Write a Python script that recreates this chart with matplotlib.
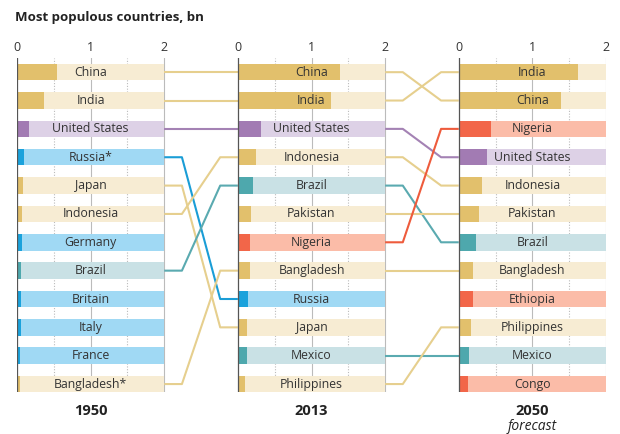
import numpy as np
import matplotlib.pyplot as plt

plt.rcParams['font.family'] = ['Open Sans', 'DejaVu Sans']

# data, billions
countries_1950 = ['China', 'India', 'United States', 'Russia*', 'Japan', 'Indonesia',
                  'Germany', 'Brazil', 'Britain', 'Italy', 'France', 'Bangladesh*']
pop_1950 = [0.55, 0.37, 0.16, 0.10, 0.08, 0.07, 0.07, 0.05, 0.05, 0.05, 0.04, 0.04]

countries_2013 = ['China', 'India', 'United States', 'Indonesia', 'Brazil', 'Pakistan',
                  'Nigeria', 'Bangladesh', 'Russia', 'Japan', 'Mexico', 'Philippines']
pop_2013 = [1.39, 1.27, 0.32, 0.25, 0.20, 0.18, 0.17, 0.16, 0.14, 0.13, 0.12, 0.10]

countries_2050 = ['India', 'China', 'Nigeria', 'United States', 'Indonesia', 'Pakistan',
                  'Brazil', 'Bangladesh', 'Ethiopia', 'Philippines', 'Mexico', 'Congo']
pop_2050 = [1.62, 1.39, 0.44, 0.38, 0.31, 0.27, 0.23, 0.20, 0.19, 0.16, 0.14, 0.12]

years = ['1950', '2013', '2050']

region = {
    'China': 'asia', 'India': 'asia', 'Japan': 'asia', 'Indonesia': 'asia',
    'Bangladesh': 'asia', 'Pakistan': 'asia', 'Philippines': 'asia',
    'United States': 'us',
    'Russia': 'europe', 'Germany': 'europe', 'Britain': 'europe', 'Italy': 'europe', 'France': 'europe',
    'Brazil': 'latam', 'Mexico': 'latam',
    'Nigeria': 'africa', 'Ethiopia': 'africa', 'Congo': 'africa',
}
# dark, light, line
colours = {
    'asia': ('#e2c06c', '#f7ecd3', '#e6cf8e'),
    'us': ('#a27bb3', '#ddd1e6', '#a482b4'),
    'europe': ('#1aa2dc', '#a0d9f4', '#1a9dd6'),
    'latam': ('#4ea8ad', '#c9e1e5', '#5aaab0'),
    'africa': ('#f26649', '#fbbca8', '#ee5b3c'),
}

panels = [(countries_1950, pop_1950), (countries_2013, pop_2013), (countries_2050, pop_2050)]
offset = 3.0
bar_h = 0.58

fig = plt.figure(figsize=(6.2, 4.34), dpi=100)
ax = fig.add_axes([17 / 620, 1 - 392 / 434, 589 / 620, 334 / 434])
ax.set_xlim(0, 8)
ax.set_ylim(11.28, -0.5)
ax.axis('off')

def key(name):
    return name.rstrip('*')

for p, (names, vals) in enumerate(panels):
    x0 = p * offset
    # grid
    ax.axvline(x0 + 1, color='#bbbbbb', lw=0.8, zorder=0)
    ax.axvline(x0 + 2, color='#bbbbbb', lw=0.8, zorder=0)
    for g in (0.5, 1.5):
        ax.axvline(x0 + g, color='#bbbbbb', lw=0.8, ls=(0, (1, 1.5)), zorder=0)
    ax.axvline(x0, color='#555555', lw=0.9, zorder=3)
    for t in range(3):
        ax.text(x0 + t, -0.88, str(t), ha='center', va='center', fontsize=9, color='#333333')
    y = np.arange(len(names))
    dark = [colours[region[key(n)]][0] for n in names]
    light = [colours[region[key(n)]][1] for n in names]
    ax.barh(y, [2] * len(names), left=x0, height=bar_h, color=light, zorder=1)
    ax.barh(y, vals, left=x0, height=bar_h, color=dark, zorder=2)
    for i, n in enumerate(names):
        ax.text(x0 + 1, i, n, ha='center', va='center', fontsize=8.8, color='#333333', zorder=4)
    ax.text(x0 + 1, 11.95, years[p], ha='center', va='center', fontsize=10.5,
            fontweight='bold', color='#222222', clip_on=False)

ax.text(2 * offset + 1, 12.5, 'forecast', ha='center', va='center', fontsize=10,
        style='italic', color='#222222', clip_on=False)

# connectors between consecutive panels
seg = 0.24
for p in range(2):
    a_names = [key(n) for n in panels[p][0]]
    b_names = [key(n) for n in panels[p + 1][0]]
    xa = p * offset + 2
    xb = (p + 1) * offset
    for i, n in enumerate(a_names):
        if n in b_names:
            j = b_names.index(n)
            ax.plot([xa, xa + seg, xb - seg, xb], [i, i, j, j],
                    color=colours[region[n]][2], lw=1.5, zorder=1, solid_capstyle='butt')

fig.text(15 / 620, 1 - 18 / 434, 'Most populous countries, bn', ha='left', va='center',
         fontsize=9.5, fontweight='bold', color='#222222')

fig.savefig('out.png', dpi=100)
